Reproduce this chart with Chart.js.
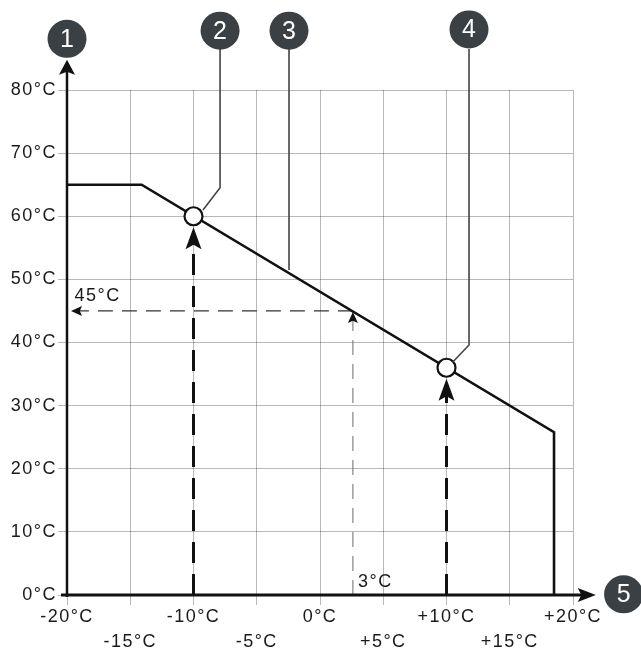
<!DOCTYPE html>
<html>
<head>
<meta charset="utf-8">
<script src="https://cdn.jsdelivr.net/npm/chart.js@4"></script>
<style>
  html, body { margin: 0; padding: 0; background: #fff; }
  #wrap { width: 641px; height: 655px; }
</style>
</head>
<body>
<div id="wrap"><canvas id="c" width="641" height="655"></canvas></div>
<script>
// ---- data ----
const xTickLabels = ['-20°C', '-15°C', '-10°C', '-5°C', '0°C', '+5°C', '+10°C', '+15°C', '+20°C'];
const yTickLabels = ['0°C', '10°C', '20°C', '30°C', '40°C', '50°C', '60°C', '70°C', '80°C'];

// heating curve (outdoor temp -> flow temp)
const curveX = [-20, -14.1, 18.5, 18.5];
const curveY = [65, 65, 25.8, 0];

// operating points marked with circles
const pointX = [-10, 10];
const pointY = [60, 36];

// reading example: 45°C flow at ~3°C outdoor
const readX = 2.6;
const readY = 45;

// numbered callouts (value positions)
const calloutText = ['1', '2', '3', '4', '5'];
const calloutX = [-20, -7.9, -2.45, 11.78, 24.0];
const calloutY = [88.1, 89.4, 89.4, 89.6, 0.1];

// leader lines from callouts 2,3,4
const leaderX = [[-7.9, -7.9, -9.25], [-2.45, -2.45], [11.78, 11.78, 10.5]];
const leaderY = [[86.5, 64.5, 61.0], [86.5, 51.5], [86.5, 39.6, 36.9]];

// text annotations
const noteText = ['45°C', '3°C'];
const noteX = [-19.4, 3.0];
const noteY = [47.4, 2.1];

// axis arrow tips
const yAxisTip = 84.8;
const xAxisTip = 21.8;

const FONT = '"Liberation Sans", Arial, sans-serif';

function pts(xs, ys) { return xs.map((x, i) => ({ x: x, y: ys[i] })); }

function arrowHead(ctx, tx, ty, dir, len, half) {
  ctx.beginPath();
  if (dir === 'up') {
    ctx.moveTo(tx, ty);
    ctx.lineTo(tx - half, ty + len);
    ctx.lineTo(tx, ty + len * 0.8);
    ctx.lineTo(tx + half, ty + len);
  } else if (dir === 'left') {
    ctx.moveTo(tx, ty);
    ctx.lineTo(tx + len, ty - half);
    ctx.lineTo(tx + len * 0.8, ty);
    ctx.lineTo(tx + len, ty + half);
  } else {
    ctx.moveTo(tx, ty);
    ctx.lineTo(tx - len, ty - half);
    ctx.lineTo(tx - len * 0.8, ty);
    ctx.lineTo(tx - len, ty + half);
  }
  ctx.closePath();
  ctx.fill();
}

const spacingPlugin = {
  id: 'spacing',
  beforeDraw(chart) { chart.ctx.letterSpacing = '1.5px'; }
};

const overlay = {
  id: 'overlay',
  afterDatasetsDraw(chart) {
    const ctx = chart.ctx;
    const xs = chart.scales.x, ys = chart.scales.y;
    const X = v => xs.getPixelForValue(v);
    const Y = v => ys.getPixelForValue(v);
    ctx.save();
    ctx.letterSpacing = '0px';

    // axes
    ctx.strokeStyle = '#111';
    ctx.fillStyle = '#111';
    ctx.lineWidth = 2.5;
    ctx.beginPath();
    ctx.moveTo(X(-20), Y(0) + 2);
    ctx.lineTo(X(-20), Y(yAxisTip) + 10);
    ctx.stroke();
    arrowHead(ctx, X(-20), Y(yAxisTip), 'up', 15, 8);
    ctx.lineWidth = 3;
    ctx.beginPath();
    ctx.moveTo(X(-20) - 6, Y(0));
    ctx.lineTo(X(xAxisTip) - 10, Y(0));
    ctx.stroke();
    arrowHead(ctx, X(xAxisTip), Y(0), 'right', 18, 7);

    // arrowheads on thick dashed verticals
    pointX.forEach((px, i) => {
      arrowHead(ctx, X(px), Y(pointY[i]) + 11, 'up', 22, 8);
    });
    // arrowheads on reading lines
    arrowHead(ctx, X(-20) + 4, Y(readY), 'left', 11, 5);
    arrowHead(ctx, X(readX), Y(readY) + 1, 'up', 11, 5);

    // leader lines
    ctx.strokeStyle = '#444';
    ctx.lineWidth = 1.6;
    leaderX.forEach((lx, i) => {
      ctx.beginPath();
      lx.forEach((v, j) => {
        const px = X(v), py = Y(leaderY[i][j]);
        if (j === 0) ctx.moveTo(px, py); else ctx.lineTo(px, py);
      });
      ctx.stroke();
    });

    // numbered callouts
    calloutText.forEach((t, i) => {
      const cx = X(calloutX[i]), cy = Y(calloutY[i]);
      ctx.fillStyle = '#3b4044';
      ctx.beginPath();
      ctx.ellipse(cx, cy, 19.5, 19, 0, 0, Math.PI * 2);
      ctx.fill();
      ctx.fillStyle = '#fff';
      ctx.font = '25px ' + FONT;
      ctx.textAlign = 'center';
      ctx.textBaseline = 'middle';
      ctx.fillText(t, cx, cy + 1);
    });

    // text notes
    ctx.fillStyle = '#1a1a1a';
    ctx.font = '18px ' + FONT;
    ctx.letterSpacing = '1.5px';
    ctx.textAlign = 'left';
    ctx.textBaseline = 'middle';
    noteText.forEach((t, i) => ctx.fillText(t, X(noteX[i]), Y(noteY[i])));
    ctx.restore();
  }
};

const chart = new Chart(document.getElementById('c'), {
  type: 'scatter',
  data: {
    datasets: [
      {
        label: 'points',
        data: pts(pointX, pointY),
        pointRadius: 9,
        pointHoverRadius: 9,
        pointBackgroundColor: '#fff',
        pointBorderColor: '#111',
        pointBorderWidth: 2.2,
        showLine: false
      },
      {
        label: 'curve',
        data: pts(curveX, curveY),
        showLine: true,
        borderColor: '#111',
        borderWidth: 2.6,
        pointRadius: 0,
        tension: 0
      },
      {
        label: 'thick dashed 1',
        data: [{ x: pointX[0], y: 0 }, { x: pointX[0], y: pointY[0] - 4 }],
        showLine: true,
        borderColor: '#111',
        borderWidth: 3,
        borderDash: [21, 11],
        pointRadius: 0
      },
      {
        label: 'thick dashed 2',
        data: [{ x: pointX[1], y: 0 }, { x: pointX[1], y: pointY[1] - 4 }],
        showLine: true,
        borderColor: '#111',
        borderWidth: 3,
        borderDash: [21, 11],
        pointRadius: 0
      },
      {
        label: 'read horizontal',
        data: [{ x: readX, y: readY }, { x: -20, y: readY }],
        showLine: true,
        borderColor: '#333',
        borderWidth: 1.3,
        borderDash: [15, 9],
        pointRadius: 0
      },
      {
        label: 'read vertical',
        data: [{ x: readX, y: 0 }, { x: readX, y: readY - 1 }],
        showLine: true,
        borderColor: '#777',
        borderWidth: 1.1,
        borderDash: [15, 9],
        pointRadius: 0
      }
    ]
  },
  options: {
    responsive: false,
    animation: false,
    events: [],
    layout: { padding: { top: 90, right: 68, left: 0, bottom: 0 } },
    plugins: { legend: { display: false }, tooltip: { enabled: false } },
    scales: {
      x: {
        type: 'linear',
        min: -20, max: 20,
        afterFit(s) { s.height = 60; },
        border: { display: false },
        grid: { color: 'rgba(0,0,0,0.28)', lineWidth: 1, tickLength: 10, drawTicks: true },
        ticks: {
          stepSize: 5,
          autoSkip: false,
          maxRotation: 0,
          padding: 0,
          color: '#1a1a1a',
          font: { family: FONT, size: 18, lineHeight: 1.36 },
          callback: (v, i) => {
            const lbl = xTickLabels[i];
            return i % 2 === 0 ? [lbl, ''] : ['', lbl];
          }
        }
      },
      y: {
        type: 'linear',
        min: 0, max: 80,
        afterFit(s) { s.width = 67; },
        border: { display: false },
        grid: { color: 'rgba(0,0,0,0.28)', lineWidth: 1, tickLength: 9, drawTicks: true },
        ticks: {
          stepSize: 10,
          padding: 1,
          color: '#1a1a1a',
          font: { family: FONT, size: 18 },
          callback: (v, i) => yTickLabels[i]
        }
      }
    }
  },
  plugins: [spacingPlugin, overlay]
});
</script>
</body>
</html>
